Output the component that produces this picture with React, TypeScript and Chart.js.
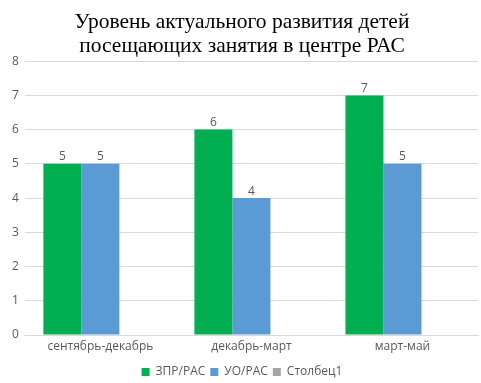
import React, { useEffect, useRef } from "react";
import { Chart, registerables } from "chart.js";

Chart.register(...registerables);

const categories = ["сентябрь-декабрь", "декабрь-март", "март-май"];
const seriesZPR = [5, 6, 7];
const seriesUO = [5, 4, 5];
const seriesCol1: (number | null)[] = [null, null, null];
const seriesNames = ["ЗПР/РАС", "УО/РАС", "Столбец1"];
const titleLines = ["Уровень актуального развития детей", "посещающих занятия в центре РАС"];

const valueLabels = {
  id: "valueLabels",
  afterDatasetsDraw(chart: any) {
    const ctx = chart.ctx;
    ctx.save();
    ctx.font = "12px 'Open Sans'";
    ctx.fillStyle = "#595959";
    ctx.textAlign = "center";
    ctx.textBaseline = "bottom";
    chart.data.datasets.forEach((ds: any, i: number) => {
      const meta = chart.getDatasetMeta(i);
      meta.data.forEach((bar: any, j: number) => {
        const v = ds.data[j];
        if (v == null) return;
        ctx.fillText(String(v), bar.x, bar.y - 1);
      });
    });
    ctx.restore();
  },
};

export default function App() {
  const ref = useRef<HTMLCanvasElement>(null);
  useEffect(() => {
    document.body.style.margin = "0";
    const chart = new Chart(ref.current!, {
      type: "bar",
      data: {
        labels: categories,
        datasets: [
          { label: seriesNames[0], data: seriesZPR, backgroundColor: "#00b050" },
          { label: seriesNames[1], data: seriesUO, backgroundColor: "#5b9bd5" },
          { label: seriesNames[2], data: seriesCol1 as any, backgroundColor: "#a5a5a5" },
        ],
      },
      options: {
        responsive: false,
        animation: false,
        layout: { padding: { left: 6, right: 3, top: 4, bottom: -5 } },
        datasets: { bar: { categoryPercentage: 0.755, barPercentage: 1 } } as any,
        scales: {
          x: {
            grid: { display: false, tickLength: 0 },
            border: { color: "#d9d9d9" },
            ticks: { color: "#595959", font: { family: "Open Sans", size: 12 }, padding: 4 },
            afterFit(scale: any) {
              scale.height = 26;
            },
          },
          y: {
            min: 0,
            max: 8,
            ticks: { stepSize: 1, color: "#595959", font: { family: "Open Sans", size: 12 }, padding: 6 },
            grid: { color: "#d9d9d9", drawTicks: false },
            border: { display: false },
          },
        },
        plugins: {
          title: {
            display: true,
            text: titleLines,
            color: "#000",
            font: { family: "Liberation Serif", size: 21.5, weight: "normal" as any, lineHeight: 1.12 },
            padding: { top: 6, bottom: 3 },
          },
          legend: {
            position: "bottom",
            labels: {
              boxWidth: 8,
              boxHeight: 8,
              padding: 5,
              color: "#595959",
              font: { family: "Open Sans", size: 12 },
            },
          },
          tooltip: { enabled: false },
        },
      },
      plugins: [valueLabels],
    });
    return () => chart.destroy();
  }, []);
  return <canvas ref={ref} width={481} height={383} />;
}
